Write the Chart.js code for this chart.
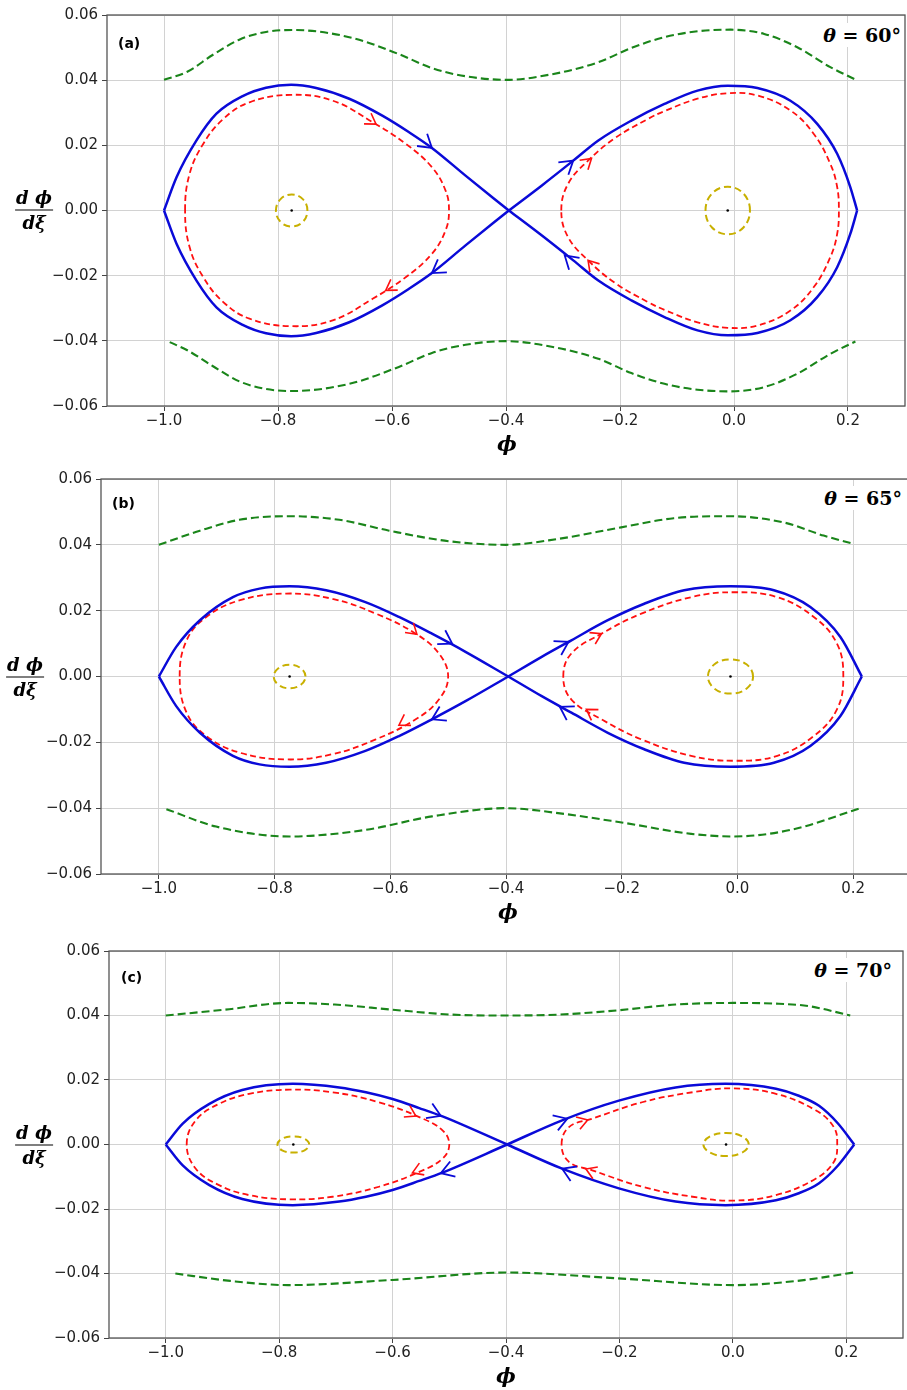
<!DOCTYPE html>
<html>
<head>
<meta charset="utf-8">
<script src="https://cdn.jsdelivr.net/npm/chart.js@4.4.1/dist/chart.umd.min.js"></script>
<style>
body { margin:0; background:#fff; width:907px; height:1390px; overflow:hidden; position:relative; }
.panel { position:absolute; left:0; width:907px; overflow:hidden; }
.lbl { position:absolute; white-space:nowrap; color:#000; z-index:2; }
.tag { font-family:"DejaVu Sans"; font-weight:bold; font-size:14px; transform:translateY(-50%); }
.theta { font-family:"DejaVu Serif"; font-weight:bold; font-size:19px; background:#fff; padding:1px 2px; transform:translateY(-50%); }
.theta i { font-style:italic; }
.xl { font-family:"DejaVu Serif"; font-style:italic; font-weight:bold; font-size:21px; transform:translate(-50%,-50%); }
.frac { font-family:"DejaVu Serif"; font-style:italic; font-weight:bold; font-size:18px; text-align:center; line-height:24px; transform:translate(-50%,-50%); }
.frac .num { border-bottom:1.6px solid #000; padding:0 1px; }
</style>
</head>
<body>
<div class="panel" style="top:0;height:465px"><canvas id="ca"></canvas></div>
<div class="panel" style="top:465px;height:470px"><canvas id="cb"></canvas></div>
<div class="panel" style="top:935px;height:455px"><canvas id="cc"></canvas></div>

<div class="lbl tag" style="left:118px;top:43px">(a)</div>
<div class="lbl tag" style="left:112px;top:503px">(b)</div>
<div class="lbl tag" style="left:121px;top:977px">(c)</div>
<div class="lbl theta" style="right:4px;top:35px"><i>θ</i> = 60°</div>
<div class="lbl theta" style="right:3px;top:498px"><i>θ</i> = 65°</div>
<div class="lbl theta" style="right:13px;top:970px"><i>θ</i> = 70°</div>
<div class="lbl xl" style="left:507px;top:443px">ϕ</div>
<div class="lbl xl" style="left:508px;top:911px">ϕ</div>
<div class="lbl xl" style="left:506px;top:1375px">ϕ</div>
<div class="lbl frac" style="left:34px;top:210px"><div class="num">d ϕ</div><div>dξ</div></div>
<div class="lbl frac" style="left:25px;top:677px"><div class="num">d ϕ</div><div>dξ</div></div>
<div class="lbl frac" style="left:34px;top:1145px"><div class="num">d ϕ</div><div>dξ</div></div>

<script>
// tick labels
var xTicks = [-1.0, -0.8, -0.6, -0.4, -0.2, 0.0, 0.2];
var yTicks = [-0.06, -0.04, -0.02, 0.00, 0.02, 0.04, 0.06];

// ---- panel (a), theta = 60 ----
var a_sepUL = [[-1.0,0],[-0.978,0.0102],[-0.943,0.0215],[-0.908,0.0297],[-0.861,0.0352],[-0.821,0.0377],[-0.777,0.0386],[-0.733,0.0376],[-0.675,0.0343],[-0.617,0.0291],[-0.570,0.0240],[-0.530,0.0192],[-0.471,0.0107],[-0.395,0]];
var a_sepLL = [[-1.0,0],[-0.978,-0.0102],[-0.943,-0.0215],[-0.908,-0.0297],[-0.861,-0.0352],[-0.821,-0.0377],[-0.777,-0.0386],[-0.733,-0.0376],[-0.675,-0.0343],[-0.617,-0.0291],[-0.570,-0.0240],[-0.530,-0.0192],[-0.471,-0.0107],[-0.395,0]];
var a_sepUR = [[-0.395,0],[-0.337,0.0077],[-0.282,0.0153],[-0.238,0.0215],[-0.180,0.0276],[-0.122,0.0327],[-0.064,0.0368],[-0.011,0.0383],[0.041,0.0376],[0.099,0.0337],[0.146,0.0266],[0.181,0.0174],[0.204,0.0072],[0.216,0]];
var a_sepLR = [[-0.395,0],[-0.337,-0.0077],[-0.282,-0.0153],[-0.238,-0.0215],[-0.180,-0.0276],[-0.122,-0.0327],[-0.064,-0.0368],[-0.011,-0.0383],[0.041,-0.0376],[0.099,-0.0337],[0.146,-0.0266],[0.181,-0.0174],[0.204,-0.0072],[0.216,0]];
var a_orbitL = [[-0.963,0],[-0.955,0.0113],[-0.931,0.0205],[-0.896,0.0281],[-0.850,0.0332],[-0.777,0.0355],[-0.704,0.0337],[-0.634,0.0271],[-0.576,0.0205],[-0.530,0.0133],[-0.506,0.0061],[-0.500,0],[-0.506,-0.0061],[-0.530,-0.0133],[-0.576,-0.0205],[-0.634,-0.0271],[-0.704,-0.0337],[-0.777,-0.0355],[-0.850,-0.0332],[-0.896,-0.0281],[-0.931,-0.0205],[-0.955,-0.0113]];
var a_orbitR = [[-0.303,0],[-0.291,0.0082],[-0.256,0.0153],[-0.209,0.0222],[-0.151,0.0281],[-0.122,0.0305],[-0.064,0.0343],[-0.011,0.036],[0.041,0.0353],[0.099,0.0307],[0.140,0.0235],[0.169,0.0143],[0.181,0.0072],[0.184,0],[0.181,-0.0072],[0.169,-0.0143],[0.140,-0.0235],[0.099,-0.0307],[0.041,-0.0353],[-0.011,-0.036],[-0.064,-0.0343],[-0.122,-0.0305],[-0.151,-0.0281],[-0.209,-0.0222],[-0.256,-0.0153],[-0.291,-0.0082]];
var a_outerTop = [[-1.0,0.0401],[-0.960,0.0425],[-0.914,0.0478],[-0.867,0.0525],[-0.821,0.0548],[-0.774,0.0554],[-0.675,0.0532],[-0.588,0.048],[-0.530,0.0437],[-0.471,0.0412],[-0.4,0.0401],[-0.320,0.0418],[-0.238,0.0455],[-0.180,0.0499],[-0.122,0.0532],[-0.064,0.055],[-0.006,0.0555],[0.053,0.0542],[0.111,0.0501],[0.169,0.044],[0.213,0.0402]];
var a_outerBot = [[-0.99,-0.0404],[-0.960,-0.0428],[-0.914,-0.0478],[-0.867,-0.0525],[-0.821,-0.0548],[-0.774,-0.0554],[-0.675,-0.0532],[-0.588,-0.048],[-0.530,-0.0437],[-0.471,-0.0412],[-0.4,-0.0401],[-0.320,-0.0418],[-0.238,-0.0455],[-0.180,-0.0499],[-0.122,-0.0532],[-0.064,-0.055],[-0.006,-0.0555],[0.053,-0.0542],[0.111,-0.0501],[0.169,-0.044],[0.213,-0.0402]];
var a_centreL = [[-0.7484,0],[-0.7565,0.0035],[-0.776,0.0049],[-0.7955,0.0035],[-0.8036,0],[-0.7955,-0.0035],[-0.776,-0.0049],[-0.7565,-0.0035]];
var a_centreR = [[0.028,0],[0.0166,0.0052],[-0.011,0.0073],[-0.0386,0.0052],[-0.050,0],[-0.0386,-0.0052],[-0.011,-0.0073],[0.0166,-0.0052]];
var a_centres = [[-0.776,0],[-0.011,0]];
// arrows: [phi, dphi, towardPhi, towardDphi]
var a_arrowsBlue = [[-0.530,0.0192,-0.471,0.0107],[-0.282,0.0153,-0.238,0.0215],[-0.530,-0.0192,-0.570,-0.0240],[-0.297,-0.0138,-0.337,-0.0077]];
var a_arrowsRed = [[-0.628,0.0265,-0.576,0.0205],[-0.611,-0.0245,-0.634,-0.0271],[-0.250,0.0160,-0.209,0.0222],[-0.256,-0.0153,-0.291,-0.0082]];

// ---- panel (b), theta = 65 ----
var b_sepUL = [[-1.0,0],[-0.970,0.009],[-0.929,0.0171],[-0.872,0.0241],[-0.826,0.0267],[-0.774,0.0274],[-0.711,0.0262],[-0.643,0.0226],[-0.585,0.0181],[-0.528,0.013],[-0.470,0.0075],[-0.396,0]];
var b_sepLL = [[-1.0,0],[-0.970,-0.009],[-0.929,-0.0171],[-0.872,-0.0241],[-0.826,-0.0267],[-0.774,-0.0274],[-0.711,-0.0262],[-0.643,-0.0226],[-0.585,-0.0181],[-0.528,-0.013],[-0.470,-0.0075],[-0.396,0]];
var b_sepUR = [[-0.396,0],[-0.339,0.0059],[-0.287,0.011],[-0.224,0.0171],[-0.161,0.0221],[-0.092,0.0262],[-0.012,0.0274],[0.063,0.0262],[0.126,0.0211],[0.178,0.012],[0.215,0]];
var b_sepLR = [[-0.396,0],[-0.339,-0.0059],[-0.287,-0.011],[-0.224,-0.0171],[-0.161,-0.0221],[-0.092,-0.0262],[-0.012,-0.0274],[0.063,-0.0262],[0.126,-0.0211],[0.178,-0.012],[0.215,0]];
var b_orbitL = [[-0.964,0],[-0.952,0.011],[-0.918,0.0181],[-0.861,0.0231],[-0.780,0.0252],[-0.700,0.0236],[-0.625,0.0191],[-0.556,0.013],[-0.516,0.007],[-0.500,0],[-0.516,-0.007],[-0.556,-0.013],[-0.625,-0.0191],[-0.700,-0.0236],[-0.780,-0.0252],[-0.861,-0.0231],[-0.918,-0.0181],[-0.952,-0.011]];
var b_orbitR = [[-0.301,0],[-0.287,0.007],[-0.235,0.013],[-0.166,0.0191],[-0.080,0.0241],[-0.006,0.0256],[0.069,0.0241],[0.132,0.0181],[0.172,0.010],[0.183,0],[0.172,-0.010],[0.132,-0.0181],[0.069,-0.0241],[-0.006,-0.0256],[-0.080,-0.0241],[-0.166,-0.0191],[-0.235,-0.013],[-0.287,-0.007]];
var b_outerTop = [[-1.0,0.04],[-0.929,0.0443],[-0.861,0.0476],[-0.774,0.0487],[-0.688,0.0476],[-0.602,0.0443],[-0.499,0.0411],[-0.4,0.04],[-0.310,0.0418],[-0.201,0.0453],[-0.110,0.0481],[-0.012,0.0487],[0.080,0.0468],[0.149,0.0428],[0.201,0.0403]];
var b_outerBot = [[-0.987,-0.0403],[-0.901,-0.0456],[-0.774,-0.0486],[-0.643,-0.0466],[-0.528,-0.0425],[-0.4,-0.04],[-0.31,-0.0415],[-0.195,-0.0445],[-0.080,-0.0478],[-0.006,-0.0486],[0.092,-0.0466],[0.213,-0.04]];
var b_centreL = [[-0.7465,0],[-0.7546,0.0025],[-0.774,0.0036],[-0.7934,0.0025],[-0.8015,0],[-0.7934,-0.0025],[-0.774,-0.0036],[-0.7546,-0.0025]];
var b_centreR = [[0.027,0],[0.0156,0.0037],[-0.012,0.0052],[-0.0396,0.0037],[-0.051,0],[-0.0396,-0.0037],[-0.012,-0.0052],[0.0156,-0.0037]];
var b_centres = [[-0.774,0],[-0.012,0]];
var b_arrowsBlue = [[-0.493,0.0100,-0.396,0],[-0.292,0.0105,-0.224,0.0171],[-0.528,-0.0130,-0.585,-0.0181],[-0.307,-0.0092,-0.396,0]];
var b_arrowsRed = [[-0.554,0.0128,-0.516,0.007],[-0.585,-0.0148,-0.625,-0.0191],[-0.235,0.013,-0.166,0.0191],[-0.261,-0.0100,-0.287,-0.007]];

// ---- panel (c), theta = 70 ----
var c_sepUL = [[-1.0,0],[-0.970,0.0065],[-0.923,0.0126],[-0.865,0.0169],[-0.776,0.0188],[-0.694,0.0177],[-0.647,0.0162],[-0.600,0.0141],[-0.553,0.0113],[-0.512,0.0087],[-0.398,0]];
var c_sepLL = [[-1.0,0],[-0.970,-0.0065],[-0.923,-0.0126],[-0.865,-0.0169],[-0.776,-0.0188],[-0.694,-0.0177],[-0.647,-0.0162],[-0.600,-0.0141],[-0.553,-0.0113],[-0.512,-0.0087],[-0.398,0]];
var c_sepUR = [[-0.398,0],[-0.301,0.0075],[-0.201,0.0136],[-0.101,0.0177],[-0.013,0.0188],[0.076,0.0173],[0.115,0.0152],[0.152,0.0120],[0.185,0.0066],[0.214,0]];
var c_sepLR = [[-0.398,0],[-0.301,-0.0075],[-0.201,-0.0136],[-0.101,-0.0177],[-0.013,-0.0188],[0.076,-0.0173],[0.115,-0.0152],[0.152,-0.0120],[0.185,-0.0066],[0.214,0]];
var c_orbitL = [[-0.963,0],[-0.947,0.0075],[-0.906,0.0126],[-0.853,0.0157],[-0.782,0.017],[-0.706,0.0162],[-0.624,0.0131],[-0.553,0.0085],[-0.512,0.0044],[-0.500,0],[-0.512,-0.0044],[-0.553,-0.0085],[-0.624,-0.0131],[-0.706,-0.0162],[-0.782,-0.017],[-0.853,-0.0157],[-0.906,-0.0126],[-0.947,-0.0075]];
var c_orbitR = [[-0.302,0],[-0.289,0.0054],[-0.248,0.008],[-0.160,0.0131],[-0.071,0.0162],[0.0,0.0174],[0.076,0.0157],[0.146,0.0106],[0.178,0.0054],[0.184,0],[0.178,-0.0054],[0.146,-0.0106],[0.076,-0.0157],[0.0,-0.0174],[-0.071,-0.0162],[-0.160,-0.0131],[-0.248,-0.008],[-0.289,-0.0054]];
var c_outerTop = [[-1.0,0.04],[-0.896,0.0418],[-0.784,0.0439],[-0.702,0.0434],[-0.600,0.0418],[-0.498,0.0403],[-0.4,0.04],[-0.305,0.0403],[-0.203,0.0416],[-0.101,0.0434],[0.001,0.0439],[0.073,0.0437],[0.134,0.0429],[0.207,0.04]];
var c_outerBot = [[-0.983,-0.04],[-0.886,-0.0423],[-0.784,-0.0436],[-0.600,-0.042],[-0.4,-0.0397],[-0.203,-0.0415],[0.001,-0.0436],[0.113,-0.0423],[0.213,-0.0397]];
var c_centreL = [[-0.747,0],[-0.7552,0.0018],[-0.775,0.0025],[-0.7948,0.0018],[-0.803,0],[-0.7948,-0.0018],[-0.775,-0.0025],[-0.7552,-0.0018]];
var c_centreR = [[0.028,0],[0.0163,0.0025],[-0.012,0.0036],[-0.0403,0.0025],[-0.052,0],[-0.0403,-0.0025],[-0.012,-0.0036],[0.0163,-0.0025]];
var c_centres = [[-0.775,0],[-0.012,0]];
var c_arrowsBlue = [[-0.515,0.0089,-0.398,0],[-0.292,0.0080,-0.201,0.0136],[-0.515,-0.0089,-0.600,-0.0141],[-0.301,-0.0075,-0.398,0]];
var c_arrowsRed = [[-0.559,0.0088,-0.512,0.0044],[-0.565,-0.0088,-0.624,-0.0131],[-0.256,0.0076,-0.160,0.0131],[-0.259,-0.0076,-0.289,-0.0054]];

var BLUE = '#0a0ad8', RED = '#ff1010', GREEN = '#1a851a', YELLOW = '#c8b000';

Chart.defaults.font.family = '"DejaVu Sans"';
Chart.defaults.font.size = 15;
Chart.defaults.color = '#222';

function xy(p) { return { x: p[0], y: p[1] }; }

// curves that are single valued in phi: monotone cubic keeps them smooth
function openLine(pts, color, width, dash) {
  return { data: pts.map(xy), showLine: true, borderColor: color, borderWidth: width,
    borderDash: dash, pointRadius: 0, cubicInterpolationMode: 'monotone', fill: false };
}

// closed curve: wrap one point on each side so the spline is smooth at the join,
// then hide the two extra segments
function closedLine(pts, color, width, dash) {
  var data = [pts[pts.length - 1]].concat(pts, [pts[0], pts[1]]);
  var last = data.length - 2;
  return { data: data.map(xy), showLine: true, borderColor: color, borderWidth: width,
    borderDash: dash, pointRadius: 0, tension: 0.4, fill: false,
    segment: { borderColor: function(ctx) {
      return (ctx.p0DataIndex === 0 || ctx.p0DataIndex === last) ? 'rgba(0,0,0,0)' : color;
    } } };
}

function makePanel(id, lay, d) {
  var canvas = document.getElementById(id);
  canvas.width = lay.w; canvas.height = lay.h;
  canvas.style.width = lay.w + 'px'; canvas.style.height = lay.h + 'px';

  var datasets = [
    openLine(d.sepUL, BLUE, 2.5, []),
    openLine(d.sepLL, BLUE, 2.5, []),
    openLine(d.sepUR, BLUE, 2.5, []),
    openLine(d.sepLR, BLUE, 2.5, []),
    closedLine(d.orbitL, RED, 1.8, [6, 3.5]),
    closedLine(d.orbitR, RED, 1.8, [6, 3.5]),
    openLine(d.outerTop, GREEN, 2.1, [8, 4]),
    openLine(d.outerBot, GREEN, 2.1, [8, 4]),
    closedLine(d.centreL, YELLOW, 2, [7, 4]),
    closedLine(d.centreR, YELLOW, 2, [7, 4]),
    { data: d.centres.map(xy), showLine: false, pointRadius: 1.3, pointBackgroundColor: '#000', pointBorderWidth: 0 }
  ];

  var frame = {
    id: 'frame',
    beforeDatasetsDraw: function(chart) {
      var a = chart.chartArea, ctx = chart.ctx;
      ctx.save();
      ctx.strokeStyle = '#555';
      ctx.lineWidth = 1.3;
      ctx.strokeRect(a.left, a.top, a.right - a.left, a.bottom - a.top);
      ctx.restore();
    }
  };

  var arrows = {
    id: 'arrows',
    afterDatasetsDraw: function(chart) {
      var xs = chart.scales.x, ys = chart.scales.y, ctx = chart.ctx;
      [{ list: d.arrowsBlue, color: BLUE, len: 15, w: 1.8 },
       { list: d.arrowsRed, color: RED, len: 12, w: 1.6 }].forEach(function(s) {
        s.list.forEach(function(a) {
          var x = xs.getPixelForValue(a[0]), y = ys.getPixelForValue(a[1]);
          var ang = Math.atan2(ys.getPixelForValue(a[3]) - y, xs.getPixelForValue(a[2]) - x);
          ctx.save();
          ctx.strokeStyle = s.color;
          ctx.lineWidth = s.w;
          ctx.beginPath();
          ctx.moveTo(x - s.len * Math.cos(ang - 0.56), y - s.len * Math.sin(ang - 0.56));
          ctx.lineTo(x, y);
          ctx.lineTo(x - s.len * Math.cos(ang + 0.56), y - s.len * Math.sin(ang + 0.56));
          ctx.stroke();
          ctx.restore();
        });
      });
    }
  };

  return new Chart(canvas, {
    type: 'scatter',
    data: { datasets: datasets },
    plugins: [frame, arrows],
    options: {
      responsive: false,
      animation: false,
      devicePixelRatio: 1,
      layout: { padding: { top: lay.top, right: lay.w - lay.right, bottom: 0, left: 0 } },
      plugins: { legend: { display: false }, tooltip: { enabled: false } },
      scales: {
        x: {
          type: 'linear', min: -1.1, max: 0.3,
          afterBuildTicks: function(s) { s.ticks = xTicks.map(function(v) { return { value: v }; }); },
          afterFit: function(s) { s.height = lay.h - lay.bottom; },
          ticks: { autoSkip: false, maxRotation: 0, padding: 1,
            callback: function(v) { return v.toFixed(1).replace('-', '\u2212'); } },
          grid: { color: '#d2d2d2', lineWidth: 1, tickLength: 5, tickColor: '#444' },
          border: { display: false }
        },
        y: {
          type: 'linear', min: -0.06, max: 0.06,
          afterBuildTicks: function(s) { s.ticks = yTicks.map(function(v) { return { value: v }; }); },
          afterFit: function(s) { s.width = lay.left; },
          ticks: { autoSkip: false, padding: 4,
            callback: function(v) { return v.toFixed(2).replace('-', '\u2212'); } },
          grid: { color: '#d2d2d2', lineWidth: 1, tickLength: 5, tickColor: '#444' },
          border: { display: false }
        }
      }
    }
  });
}

makePanel('ca', { w: 909, h: 465, left: 107, top: 15, bottom: 406, right: 908 },
  { sepUL: a_sepUL, sepLL: a_sepLL, sepUR: a_sepUR, sepLR: a_sepLR, orbitL: a_orbitL, orbitR: a_orbitR,
    outerTop: a_outerTop, outerBot: a_outerBot, centreL: a_centreL, centreR: a_centreR, centres: a_centres,
    arrowsBlue: a_arrowsBlue, arrowsRed: a_arrowsRed });
makePanel('cb', { w: 915, h: 470, left: 101, top: 14, bottom: 409, right: 914 },
  { sepUL: b_sepUL, sepLL: b_sepLL, sepUR: b_sepUR, sepLR: b_sepLR, orbitL: b_orbitL, orbitR: b_orbitR,
    outerTop: b_outerTop, outerBot: b_outerBot, centreL: b_centreL, centreR: b_centreR, centres: b_centres,
    arrowsBlue: b_arrowsBlue, arrowsRed: b_arrowsRed });
makePanel('cc', { w: 907, h: 455, left: 109, top: 16, bottom: 403, right: 904 },
  { sepUL: c_sepUL, sepLL: c_sepLL, sepUR: c_sepUR, sepLR: c_sepLR, orbitL: c_orbitL, orbitR: c_orbitR,
    outerTop: c_outerTop, outerBot: c_outerBot, centreL: c_centreL, centreR: c_centreR, centres: c_centres,
    arrowsBlue: c_arrowsBlue, arrowsRed: c_arrowsRed });
</script>
</body>
</html>
